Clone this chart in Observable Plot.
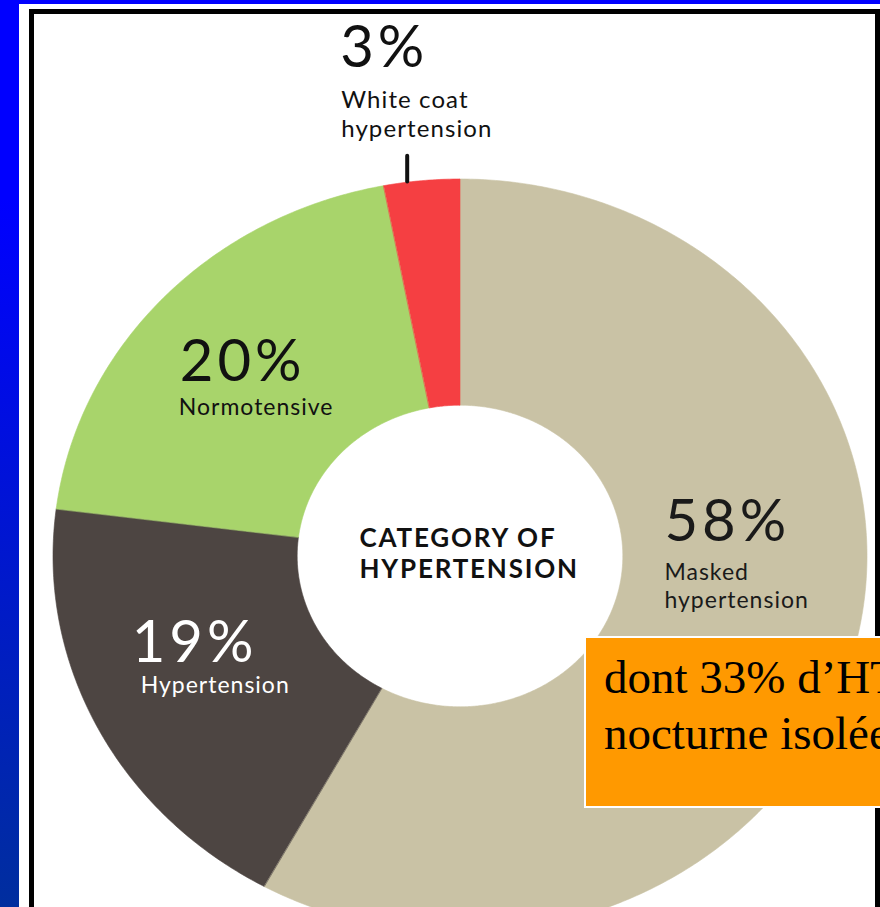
<!DOCTYPE html>
<html>
<head>
<meta charset="utf-8">
<script src="https://cdn.jsdelivr.net/npm/d3@7"></script>
<script src="https://cdn.jsdelivr.net/npm/@observablehq/plot@0.6"></script>
<style>
  html, body { margin: 0; padding: 0; }
  body {
    width: 880px; height: 907px; overflow: hidden; position: relative;
    background: linear-gradient(to bottom, #0000FF 0%, #0000FF 22%, #002E9E 100%);
  }
  #panel { position: absolute; left: 19px; top: 4px; width: 861px; height: 903px; background: #fff; }
  #frame { position: absolute; left: 29px; top: 9px; width: 851px; height: 1000px; border: 5px solid #000; box-sizing: border-box; }
  #chart { position: absolute; left: 0; top: 0; width: 880px; height: 907px; }
  #note {
    position: absolute; left: 584px; top: 636px; width: 400px; height: 157px;
    border: 2px solid #fff; background: #FF9900;
    font-family: "Liberation Serif", "Times New Roman", serif; font-size: 47px; line-height: 56px;
    color: #000; white-space: pre; padding: 11px 0 0 18px; box-sizing: content-box;
  }
</style>
</head>
<body>
<div id="panel"></div>
<div id="frame"></div>
<div id="chart"></div>
<div id="note"></div>
<script>
// ---- data ----
const categories = ["Masked hypertension", "Hypertension", "Normotensive", "White coat hypertension"];
const shares = [58, 19, 20, 3];
const labelLines = ["Masked\nhypertension", "Hypertension", "Normotensive", "White coat\nhypertension"];
const centerTitle = "CATEGORY OF\nHYPERTENSION";
const noteText = "dont 33% d’HTA\nnocturne isolée";

// ---- styles ----
const sliceColors = ["#C9C2A5", "#4D4542", "#A8D46B", "#F53F42"];
const labelInk = ["#1a1a1a", "#ffffff", "#111111", "#111111"];
const INNER = 0.4;
// label anchor radius and pixel nudges: [radius, pct dx, pct dy, name dx, name dy, lineHeight, name size]
const labelLayout = [
  [0.7, -72, -81, -72, -14, 1.22, 23],
  [0.7, -75, -14, -66, 17, 1.22, 23],
  [0.7, -73, 5, -74, 39, 1.22, 23],
  [1.0, -82, -114, -81, -44, 1.21, 24]
];
const spacingBySize = {58: "4px", 23: "1px", 24: "1.1px", 26: "1.8px"};

const slices = categories.map((name, i) => ({name, value: shares[i]}));
const pie = d3.pie().sort(null).value(d => d.value)(slices);

const STEP = Math.PI / 360;
const ringRows = pie.flatMap(p => {
  const n = Math.max(2, Math.ceil((p.endAngle - p.startAngle) / STEP));
  return d3.range(n + 1).map(i => {
    const a = p.startAngle + (p.endAngle - p.startAngle) * i / n;
    return {name: p.data.name, xi: INNER * Math.sin(a), yi: INNER * Math.cos(a), xo: Math.sin(a), yo: Math.cos(a)};
  });
});

const labelRows = pie.map((p, i) => {
  const a = (p.startAngle + p.endAngle) / 2;
  const r = labelLayout[i][0];
  return {pct: p.data.value + "%", lines: labelLines[i], x: r * Math.sin(a), y: r * Math.cos(a),
          xt: Math.sin(a), yo: 1, yt: 1.068};
});

const marks = [
  Plot.area(ringRows, {x1: "xi", y1: "yi", x2: "xo", y2: "yo", z: "name", fill: "name", stroke: "name", strokeWidth: 0.6}),
  Plot.link([labelRows[3]], {x1: "xt", x2: "xt", y1: "yo", y2: "yt", dx: -15, dy: 2, stroke: "#111", strokeWidth: 4, strokeLinecap: "round"})
];
labelRows.forEach((d, i) => {
  const [r, pdx, pdy, ndx, ndy, lh, ns] = labelLayout[i];
  marks.push(Plot.text([d], {x: "x", y: "y", text: "pct", dx: pdx, dy: pdy, textAnchor: "start", lineAnchor: "bottom",
    fontFamily: "Lato", fontSize: 58, fontWeight: 400, fill: labelInk[i]}));
  marks.push(Plot.text([d], {x: "x", y: "y", text: "lines", dx: ndx, dy: ndy, textAnchor: "start", lineAnchor: "bottom",
    lineHeight: lh, fontFamily: "Lato", fontSize: ns, fill: labelInk[i]}));
});
marks.push(Plot.text([centerTitle], {x: () => 0, y: () => 0, text: d => d, dx: -101, dy: 21, textAnchor: "start", lineAnchor: "bottom",
  lineHeight: 1.19, fontFamily: "Lato", fontSize: 26, fontWeight: 700, fill: "#111"}));

const chart = Plot.plot({
  width: 880, height: 907, margin: 0,
  style: {background: "transparent", overflow: "hidden"},
  x: {axis: null, domain: [-1, 1], range: [53, 867]},
  y: {axis: null, domain: [-1, 1], range: [933, 179]},
  color: {domain: categories, range: sliceColors},
  marks
});
chart.querySelectorAll("[font-size]").forEach(el => {
  const s = spacingBySize[el.getAttribute("font-size")];
  if (s) el.style.letterSpacing = s;
});
document.getElementById("chart").appendChild(chart);
document.getElementById("note").textContent = noteText;
</script>
</body>
</html>
